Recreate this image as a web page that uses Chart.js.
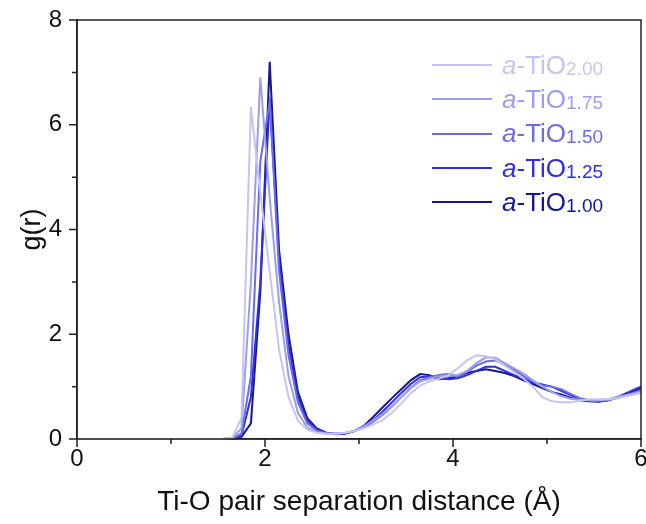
<!DOCTYPE html>
<html>
<head>
<meta charset="utf-8">
<script src="https://cdn.jsdelivr.net/npm/chart.js@4.4.1/dist/chart.umd.min.js"></script>
<style>
  html, body { margin: 0; padding: 0; background: #fff; }
  #wrap { position: relative; width: 646px; height: 524px; }
  #legend { position: absolute; left: 432px; top: 48px; font-family: "Liberation Sans", Arial, sans-serif; }
  .row { display: flex; align-items: center; height: 34.3px; font-size: 26px; white-space: nowrap; }
  .swatch { width: 60px; height: 2px; margin-right: 10px; }
  .row sub { font-size: 19px; vertical-align: -1px; }
</style>
</head>
<body>
<div id="wrap">
  <canvas id="chart" width="646" height="524"></canvas>
  <div id="legend"></div>
</div>
<script>
// r (Å) shared by all curves
const distance = [0, 1.55, 1.65, 1.75, 1.85, 1.95, 2.05, 2.15, 2.25, 2.35, 2.45, 2.55, 2.65, 2.75, 2.85, 2.95,
    3.05, 3.15, 3.25, 3.35, 3.45, 3.55, 3.65, 3.75, 3.85, 3.95, 4.05, 4.15, 4.25, 4.35, 4.45, 4.55, 4.65, 4.75,
    4.85, 4.95, 5.05, 5.15, 5.25, 5.35, 5.45, 5.55, 5.65, 5.75, 5.85, 5.95, 6.0];

const g200 = [0, 0, 0.02, 0.4, 6.34, 4.7, 3.2, 1.7, 0.8, 0.35, 0.18, 0.12, 0.1, 0.1, 0.12, 0.15,
    0.2, 0.28, 0.36, 0.5, 0.68, 0.87, 1.02, 1.1, 1.15, 1.22, 1.35, 1.5, 1.6, 1.58, 1.52, 1.4, 1.28, 1.15,
    1.0, 0.8, 0.72, 0.7, 0.7, 0.73, 0.76, 0.76, 0.76, 0.78, 0.82, 0.86, 0.88];
const g175 = [0, 0, 0.02, 0.2, 3.0, 6.9, 4.6, 2.6, 1.2, 0.5, 0.22, 0.13, 0.1, 0.1, 0.12, 0.16,
    0.24, 0.35, 0.48, 0.62, 0.8, 0.97, 1.1, 1.15, 1.2, 1.2, 1.22, 1.3, 1.45, 1.56, 1.55, 1.45, 1.35, 1.25,
    1.12, 1.0, 0.9, 0.82, 0.77, 0.75, 0.74, 0.74, 0.76, 0.8, 0.84, 0.88, 0.9];
const g150 = [0, 0, 0.01, 0.1, 1.2, 5.3, 6.45, 3.2, 1.6, 0.7, 0.3, 0.16, 0.11, 0.1, 0.11, 0.15,
    0.22, 0.33, 0.46, 0.62, 0.8, 0.98, 1.12, 1.18, 1.22, 1.24, 1.2, 1.28, 1.4, 1.48, 1.5, 1.42, 1.32, 1.2,
    1.1, 1.02, 1.0, 0.95, 0.86, 0.78, 0.74, 0.73, 0.74, 0.78, 0.84, 0.9, 0.93];
const g125 = [0, 0, 0.01, 0.06, 0.8, 3.0, 6.5, 3.4, 1.8, 0.8, 0.35, 0.18, 0.12, 0.1, 0.11, 0.15,
    0.23, 0.36, 0.52, 0.7, 0.88, 1.05, 1.18, 1.2, 1.18, 1.14, 1.16, 1.22, 1.3, 1.38, 1.38, 1.3, 1.22, 1.15,
    1.08, 1.04, 1.0, 0.92, 0.84, 0.77, 0.73, 0.72, 0.74, 0.8, 0.88, 0.96, 1.0];
const g100 = [0, 0, 0, 0.04, 0.3, 2.8, 7.2, 3.6, 2.0, 0.9, 0.4, 0.2, 0.12, 0.09, 0.1, 0.15,
    0.25, 0.42, 0.6, 0.78, 0.95, 1.12, 1.24, 1.22, 1.14, 1.16, 1.2, 1.26, 1.3, 1.33, 1.3, 1.26, 1.2, 1.12,
    1.05, 0.97, 0.9, 0.85, 0.79, 0.74, 0.72, 0.71, 0.74, 0.8, 0.86, 0.93, 0.97];

const subscripts = ['2.00', '1.75', '1.50', '1.25', '1.00'];
const curves = [g200, g175, g150, g125, g100];
const colors = ['#c5c5f0', '#9d9df0', '#6c6ce8', '#2f2fdc', '#161690'];

const xTicks = [0, 1, 2, 3, 4, 5, 6];
const yTicks = [0, 1, 2, 3, 4, 5, 6, 7, 8];

const FONT = '"Liberation Sans", Arial, sans-serif';

// legend with italic "a" and subscripts
const legendEl = document.getElementById('legend');
subscripts.forEach((s, i) => {
    const row = document.createElement('div');
    row.className = 'row';
    row.style.color = colors[i];
    row.innerHTML = `<span class="swatch" style="background:${colors[i]}"></span><span><i>a</i>-TiO<sub>${s}</sub></span>`;
    legendEl.appendChild(row);
});

// box frame + major/minor tick marks
const frameTicks = {
    id: 'frameTicks',
    afterDraw(chart) {
        const { ctx, chartArea: a, scales: { x, y } } = chart;
        ctx.save();
        ctx.strokeStyle = '#222';
        ctx.lineWidth = 1.5;
        ctx.strokeRect(a.left, a.top, a.right - a.left, a.bottom - a.top);
        ctx.beginPath();
        xTicks.forEach(v => {
            const px = x.getPixelForValue(v);
            const len = v % 2 === 0 ? 8 : 5;
            ctx.moveTo(px, a.bottom);
            ctx.lineTo(px, a.bottom + len);
        });
        yTicks.forEach(v => {
            const py = y.getPixelForValue(v);
            const len = v % 2 === 0 ? 8 : 5;
            ctx.moveTo(a.left, py);
            ctx.lineTo(a.left - len, py);
        });
        ctx.stroke();
        ctx.restore();
    }
};

new Chart(document.getElementById('chart'), {
    type: 'line',
    data: {
        datasets: curves.map((c, i) => ({
            label: 'a-TiO' + subscripts[i],
            data: distance.map((r, k) => ({ x: r, y: c[k] })),
            borderColor: colors[i],
            borderWidth: 2,
            pointRadius: 0,
            tension: 0,
            clip: false
        }))
    },
    options: {
        responsive: false,
        animation: false,
        layout: { padding: { top: 20, right: 5, left: 0, bottom: 0 } },
        plugins: { legend: { display: false }, tooltip: { enabled: false } },
        scales: {
            x: {
                type: 'linear', min: 0, max: 6,
                afterBuildTicks: s => { s.ticks = xTicks.map(v => ({ value: v })); },
                afterFit: s => { s.height = 85; s.paddingLeft = 0; s.paddingRight = 0; },
                grid: { display: false, drawTicks: false },
                border: { display: true, color: '#222', width: 1.5 },
                ticks: {
                    padding: 6, color: '#111', font: { family: FONT, size: 24 },
                    maxRotation: 0, autoSkip: false,
                    callback: v => (v % 2 === 0 ? v : '')
                },
                title: {
                    display: true, text: 'Ti-O pair separation distance (Å)', color: '#111',
                    font: { family: FONT, size: 28 }, padding: { top: 0, bottom: 5 }
                }
            },
            y: {
                type: 'linear', min: 0, max: 8,
                afterBuildTicks: s => { s.ticks = yTicks.map(v => ({ value: v })); },
                afterFit: s => { s.width = 77; s.paddingTop = 0; s.paddingBottom = 0; },
                grid: { display: false, drawTicks: false },
                border: { display: true, color: '#222', width: 1.5 },
                ticks: {
                    padding: 15, color: '#111', font: { family: FONT, size: 24 },
                    autoSkip: false,
                    callback: v => (v % 2 === 0 ? v : '')
                },
                title: {
                    display: true, text: 'g(r)', color: '#111',
                    font: { family: FONT, size: 27 }, padding: { top: 16, bottom: 0 }
                }
            }
        }
    },
    plugins: [frameTicks]
});
</script>
</body>
</html>
